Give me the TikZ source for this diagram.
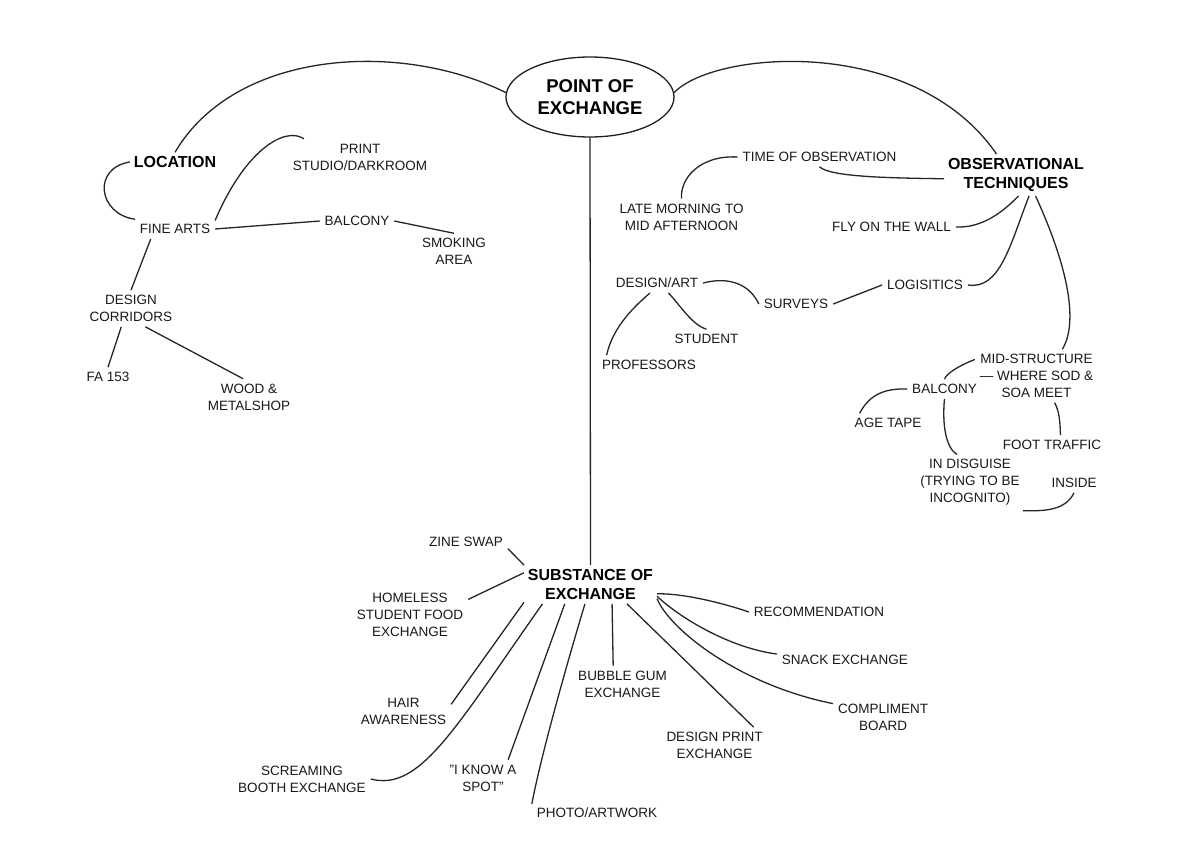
\documentclass[tikz,border=0pt]{standalone}
\usepackage{fontspec}
\setmainfont{Liberation Sans}
\usetikzlibrary{shapes.geometric}
\begin{document}
\begin{tikzpicture}[x=1pt,y=-1pt,
  tx/.style={font=\fontsize{13.5}{17}\selectfont, align=center, inner sep=2pt, outer sep=3pt, text=black!90},
  hd/.style={font=\fontsize{16}{19.5}\selectfont\bfseries, align=center, inner sep=2pt, outer sep=2pt, text=black},
  poestyle/.style={ellipse, draw=black!88, line width=1.3pt, minimum width=168pt, minimum height=80pt, inner sep=0pt,
    font=\fontsize{18.5}{22.5}\selectfont\bfseries, align=center},
  link/.style={draw=black!85, line width=1.3pt}]
\fill[white] (0,0) rectangle (1184,864);
\useasboundingbox (0,0) rectangle (1184,864);

% nodes
\node[poestyle] (poe) at (590,97) {POINT OF\\EXCHANGE};
\node[hd] (loc) at (175,162) {LOCATION};
\node[tx] (print) at (360,157) {PRINT\\STUDIO/DARKROOM};
\node[tx] (fa) at (175,229) {FINE ARTS};
\node[tx] (balL) at (357,221) {BALCONY};
\node[tx] (smoke) at (454,251.5) {SMOKING\\AREA};
\node[tx] (dc) at (131,308.5) {DESIGN\\CORRIDORS};
\node[tx] (fa153) at (108,377) {FA 153};
\node[tx] (wood) at (249,397) {WOOD \&\\METALSHOP};
\node[tx] (time) at (819.5,157) {TIME OF OBSERVATION};
\node[hd] (obs) at (1016,175) {OBSERVATIONAL\\TECHNIQUES};
\node[tx] (late) at (681.5,217) {LATE MORNING TO\\MID AFTERNOON};
\node[tx] (fly) at (891.5,227) {FLY ON THE WALL};
\node[tx] (da) at (657,283) {DESIGN/ART};
\node[tx] (surv) at (796,304) {SURVEYS};
\node[tx] (logi) at (925,285) {LOGISITICS};
\node[tx] (stud) at (706.5,339) {STUDENT};
\node[tx] (prof) at (649,365) {PROFESSORS};
\node[tx] (mid) at (1036.5,376) {MID-STRUCTURE\\— WHERE SOD \&\\SOA MEET};
\node[tx] (balR) at (944.5,389) {BALCONY};
\node[tx] (age) at (888,423) {AGE TAPE};
\node[tx] (foot) at (1052,445) {FOOT TRAFFIC};
\node[tx] (disg) at (970,482.5) {IN DISGUISE\\(TRYING TO BE\\INCOGNITO)};
\node[tx] (inside) at (1074,483) {INSIDE};
\node[tx] (zine) at (466,542) {ZINE SWAP};
\node[hd] (soe) at (590.5,584.5) {SUBSTANCE OF\\EXCHANGE};
\node[tx] (home) at (410,615) {HOMELESS\\STUDENT FOOD\\EXCHANGE};
\node[tx] (hair) at (403.5,711) {HAIR\\AWARENESS};
\node[tx] (scream) at (302,779) {SCREAMING\\BOOTH EXCHANGE};
\node[tx] (spot) at (483,778) {\char34I KNOW A\\SPOT\char34};
\node[tx] (photo) at (597,813) {PHOTO/ARTWORK};
\node[tx] (bubble) at (622.5,684) {BUBBLE GUM\\EXCHANGE};
\node[tx] (dpe) at (714.5,745.5) {DESIGN PRINT\\EXCHANGE};
\node[tx] (rec) at (819,612) {RECOMMENDATION};
\node[tx] (snack) at (845,660) {SNACK EXCHANGE};
\node[tx] (comp) at (883,717) {COMPLIMENT\\BOARD};

% connectors
\path[link] (loc.north) .. controls (235,50) and (400,40) .. (poe.177);
\path[link] (poe.3) .. controls (715,50) and (915,35) .. (obs.133);
\path[link] (poe.south) -- (soe.north);
% location branch
\path[link] (loc.west) .. controls (92,168) and (98,214) .. (fa.north west);
\path[link] (fa.12) .. controls (245,150) and (285,126) .. (print.162);
\path[link] (fa.east) -- (balL.west);
\path[link] (balL.east) -- (smoke.north);
\path[link] (fa.202) -- (dc.north);
\path[link] (dc.242) -- (fa153.north);
\path[link] (dc.308) -- (wood.108);
% observational branch
\path[link] (time.west) .. controls (700,155) and (680,178) .. (late.north);
\path[link] (time.south) .. controls (830,177) and (890,178) .. (obs.183);
\path[link] (obs.277) .. controls (1000,215) and (980,228) .. (fly.east);
\path[link] (obs.302) .. controls (1010,245) and (1000,290) .. (logi.east);
\path[link] (obs.313) .. controls (1065,260) and (1080,320) .. (mid.46);
\path[link] (logi.west) -- (surv.east);
\path[link] (da.east) .. controls (730,276) and (750,285) .. (surv.west);
\path[link] (da.319) .. controls (680,305) and (692,325) .. (stud.north);
\path[link] (da.235) .. controls (630,310) and (612,330) .. (prof.167);
\path[link] (mid.165) .. controls (958,366) and (946,374) .. (balR.north);
\path[link] (balR.west) .. controls (880,388) and (868,398) .. (age.161);
\path[link] (balR.south) .. controls (942,425) and (946,448) .. (disg.115);
\path[link] (mid.304) .. controls (1060,412) and (1060,425) .. (foot.49);
\path[link] (inside.south) .. controls (1065,512) and (1040,511) .. (disg.332);
% substance branch
\path[link] (zine.351) -- (soe.north west);
\path[link] (home.15) -- (soe.170);
\path[link] (hair.8) -- (soe.195);
\path[link] (scream.east) .. controls (420,792) and (455,728) .. (soe.202);
\path[link] (spot.36) -- (soe.217);
\path[link] (photo.172) .. controls (540,760) and (565,670) .. (soe.254);
\path[link] (soe.318) -- (bubble.117);
\path[link] (soe.332) -- (dpe.25);
\path[link] (soe.352) .. controls (680,593) and (720,602) .. (rec.west);
\path[link] (soe.350) .. controls (680,618) and (730,648) .. (snack.175);
\path[link] (soe.348) .. controls (670,630) and (740,685) .. (comp.165);
\end{tikzpicture}
\end{document}
